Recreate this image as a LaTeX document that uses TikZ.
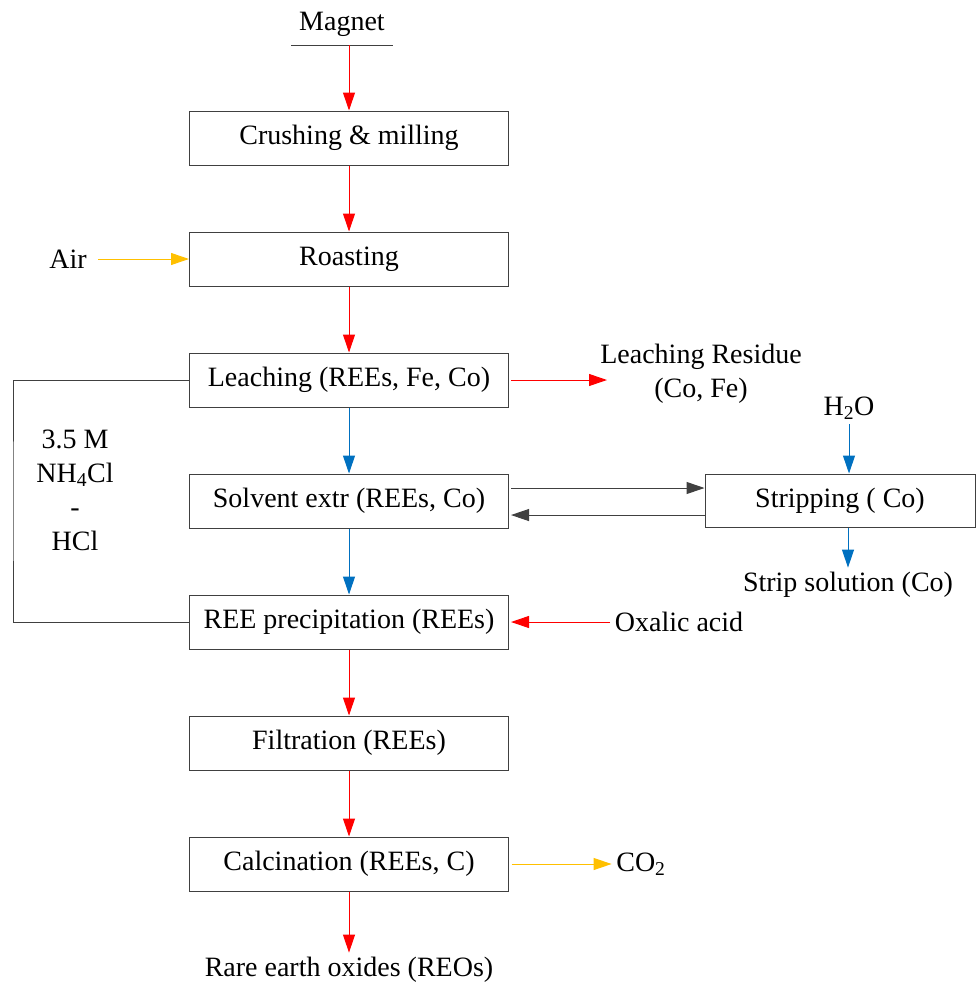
\documentclass[tikz,border=0pt]{standalone}
\usepackage{fontspec}
\setmainfont{Liberation Serif}
\usetikzlibrary{arrows.meta}
\definecolor{redline}{HTML}{FF0000}
\definecolor{blueline}{HTML}{0070C0}
\definecolor{yellowline}{HTML}{FFC000}
\definecolor{grayline}{HTML}{404040}

\begin{document}
\begin{tikzpicture}[x=0.75pt,y=-0.75pt,
    font=\fontsize{21}{25.5}\selectfont,
    box/.style={draw=grayline, line width=0.75pt, minimum width=239.25pt, minimum height=40.5pt, inner sep=0pt},
    tip/.style={-{Triangle[length=13.5pt,width=9pt]}, line width=0.75pt},
    redarr/.style={tip, draw=redline},
    bluearr/.style={tip, draw=blueline},
    yelarr/.style={tip, draw=yellowline},
    grayarr/.style={tip, draw=grayline}]

    \useasboundingbox (0,0) rectangle (976,992);

    \node[box] (a) at (349,138) {Crushing \& milling};
    \node[box] (b) at (349,259) {Roasting};
    \node[box] (c) at (349,380) {Leaching (REEs, Fe, Co)};
    \node[box] (d) at (349,501) {Solvent extr (REEs, Co)};
    \node[box] (e) at (349,622) {REE precipitation (REEs)};
    \node[box] (f) at (349,743) {Filtration (REEs)};
    \node[box] (g) at (349,864) {Calcination (REEs, C)};
    \node[box, minimum width=202.5pt, minimum height=39.75pt] (h) at (840,500.5) {Stripping ( Co)};

    \node[minimum width=75.75pt, minimum height=31.5pt, inner sep=0pt] (mag) at (342,24) {Magnet};
    \node (air) at (68,259) {Air};
    \node[align=center, inner sep=0pt] (res) at (701,374) {Leaching Residue\\(Co, Fe)};
    \node (water) at (849,408) {H\textsubscript{2}O};
    \node (strip) at (848,585) {Strip solution (Co)};
    \node (oxa) at (679,622) {Oxalic acid};
    \node[align=center] (acid) at (75,490) {3.5 M\\NH\textsubscript{4}Cl\\-\\HCl};
    \node (co2) at (641,864) {CO\textsubscript{2}};
    \node (reo) at (349,970) {Rare earth oxides (REOs)};
    \coordinate (resin) at (607,380);
    \coordinate (loop) at (13,501);

    \draw[grayline, line width=0.75pt] (mag.south west) -- (mag.south east);

    \draw[redarr] (mag.south -| a.north) -- (a.north);
    \draw[redarr] (a) -- (b);
    \draw[yelarr] ([xshift=5pt]air.east) -- (air.east -| b.west);
    \draw[redarr] (b) -- (c);
    \draw[redarr] ([xshift=1.5pt]c.east) -- (resin);
    \draw[bluearr] (c) -- (d);
    \draw[bluearr] (d) -- (e);
    \draw[grayarr] ([xshift=1.5pt,yshift=9.75pt]d.east) -- ([yshift=9.75pt]d.east -| h.west);
    \draw[grayarr] ([yshift=-10.9pt]h.west) -- ([xshift=1.5pt,yshift=-10.9pt]h.west -| d.east);
    \draw[bluearr] (water.south) -- (water.south |- h.north);
    \draw[bluearr] (strip.north |- h.south) -- (strip.north);
    \draw[redarr] (oxa.west) -- ([xshift=1.5pt]oxa.west -| e.east);
    \draw[grayline, line width=0.75pt] (c.west) -| (loop) |- (e.west);
    \draw[redarr] (e) -- (f);
    \draw[redarr] (f) -- (g);
    \draw[yelarr] ([xshift=2pt]g.east) -- (co2.west);
    \draw[redarr] (g) -- (reo);

\end{tikzpicture}
\end{document}
